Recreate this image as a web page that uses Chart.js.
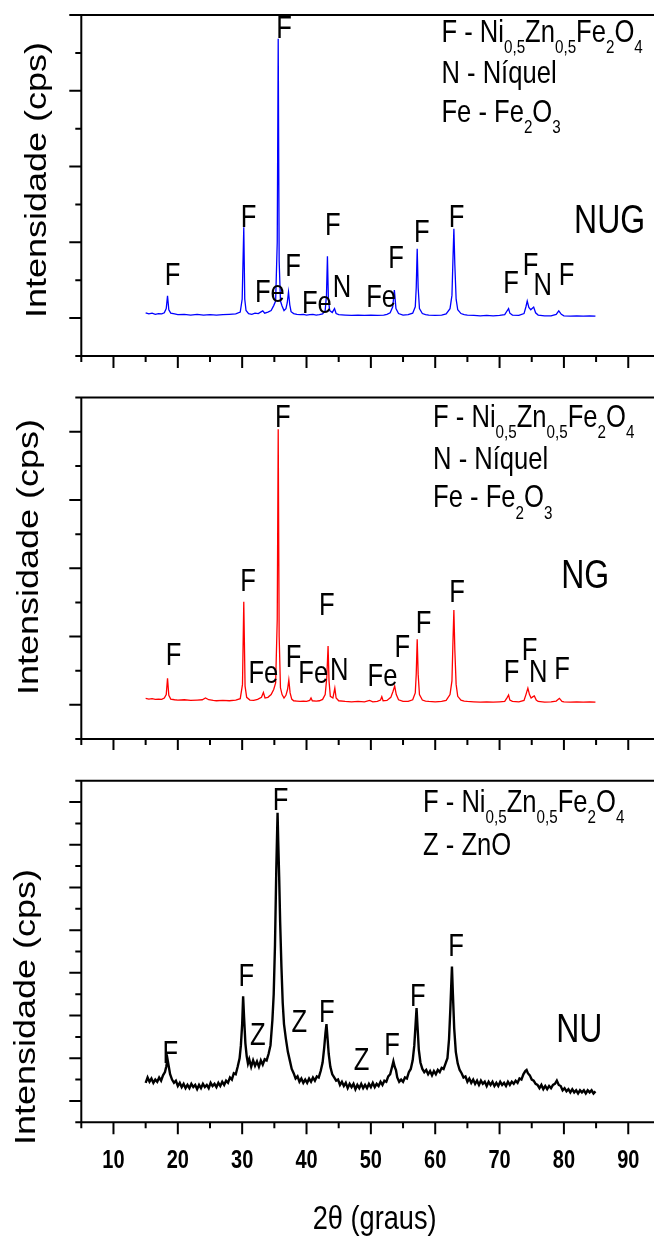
<!DOCTYPE html>
<html>
<head>
<meta charset="utf-8">
<script src="https://cdn.jsdelivr.net/npm/chart.js@4.4.1/dist/chart.umd.min.js"></script>
<style>
  html, body { margin: 0; padding: 0; background: #fff; overflow: hidden; }
  canvas { position: absolute; left: 0; }
</style>
</head>
<body>
<canvas id="c1" width="654" height="380" style="top:0px"></canvas>
<canvas id="c2" width="654" height="365" style="top:385px"></canvas>
<canvas id="c3" width="654" height="487" style="top:750px"></canvas>
<script>
// 2theta axis ticks
const xMajorTicks = [10, 20, 30, 40, 50, 60, 70, 80, 90];
const xMinorTicks = [5, 15, 25, 35, 45, 55, 65, 75, 85];
const xTickLabels = ['10', '20', '30', '40', '50', '60', '70', '80', '90'];

// NUG sample (blue)
const nugX = [15.0, 15.5, 16.0, 16.5, 17.0, 17.5, 17.9, 18.2, 18.4, 18.6, 18.9, 19.5, 20, 21, 22, 23, 24, 25, 26, 27, 28, 29,
  29.7, 30.0, 30.25, 30.4, 30.6, 31.0, 31.5, 32.0, 32.5, 33.0, 33.2, 33.5, 34.0, 34.5, 34.9, 35.2, 35.45, 35.6, 35.75, 35.95,
  36.2, 36.5, 36.8, 37.0, 37.2, 37.4, 37.6, 38, 38.5, 39, 39.5, 40, 40.5, 41, 41.5, 42, 42.5, 42.9, 43.1, 43.25, 43.4, 43.6,
  44.0, 44.35, 44.6, 45, 46, 47, 48, 49, 50, 51, 52, 52.5, 53.0, 53.4, 53.65, 53.9, 54.3, 55, 55.8, 56.5, 56.9, 57.05, 57.2,
  57.35, 57.55, 58, 58.5, 59, 60, 61, 61.7, 62.3, 62.6, 62.75, 62.9, 63.05, 63.25, 63.5, 64, 64.5, 65, 66, 67, 68, 69, 70,
  70.8, 71.2, 71.4, 71.6, 72, 73, 73.8, 74.1, 74.3, 74.55, 74.85, 75.1, 75.3, 75.6, 76, 77, 78, 78.8, 79.2, 79.6, 80, 81, 82,
  83, 84, 84.9];
const nugY = [1.14, 1.11, 1.13, 1.10, 1.12, 1.11, 1.14, 1.25, 1.59, 1.22, 1.13, 1.11, 1.09, 1.10, 1.08, 1.10, 1.08, 1.09, 1.08, 1.09, 1.10, 1.11,
  1.16, 1.5, 3.40, 1.5, 1.2, 1.12, 1.10, 1.13, 1.12, 1.17, 1.19, 1.13, 1.16, 1.20, 1.33, 1.45, 3.0, 8.37, 2.5, 1.45,
  1.32, 1.20, 1.25, 1.40, 1.69, 1.35, 1.17, 1.12, 1.10, 1.09, 1.10, 1.08, 1.09, 1.10, 1.08, 1.09, 1.11, 1.2, 1.6, 2.63, 1.5, 1.2,
  1.15, 1.25, 1.12, 1.09, 1.08, 1.07, 1.08, 1.07, 1.08, 1.07, 1.08, 1.1, 1.14, 1.3, 1.74, 1.25, 1.12, 1.08, 1.09, 1.13, 1.3, 1.8, 2.83,
  1.8, 1.25, 1.12, 1.09, 1.08, 1.07, 1.08, 1.11, 1.25, 1.6, 2.5, 3.36, 2.4, 1.5, 1.22, 1.12, 1.09, 1.08, 1.07, 1.06, 1.07, 1.06, 1.07,
  1.09, 1.2, 1.25, 1.13, 1.08, 1.07, 1.12, 1.3, 1.45, 1.28, 1.22, 1.26, 1.29, 1.14, 1.08, 1.06, 1.06, 1.1, 1.19, 1.1, 1.06, 1.05, 1.06,
  1.05, 1.06, 1.05];

// NG sample (red)
const ngX = [15.0, 15.5, 16.0, 16.5, 17.0, 17.5, 17.9, 18.2, 18.4, 18.6, 18.9, 19.5, 20, 21, 22, 23, 23.8, 24.3, 24.8, 25.5, 26, 27, 28, 29,
  29.7, 30.05, 30.25, 30.45, 30.7, 31.2, 31.8, 32.4, 33.0, 33.3, 33.55, 34.0, 34.5, 34.9, 35.2, 35.45, 35.6, 35.75, 35.95,
  36.2, 36.5, 36.8, 37.05, 37.25, 37.45, 37.7, 38, 38.5, 39, 39.5, 40, 40.5, 40.7, 40.9, 41.5, 42, 42.5, 42.9, 43.15, 43.35, 43.5,
  43.7, 44.1, 44.4, 44.6, 45, 46, 47, 48, 49, 49.8, 50.3, 51, 51.5, 51.7, 51.9, 52.5, 53.1, 53.45, 53.7, 53.95, 54.3, 55, 55.8,
  56.5, 56.9, 57.05, 57.2, 57.35, 57.55, 58, 58.5, 59, 60, 61, 61.7, 62.3, 62.6, 62.75, 62.9, 63.05, 63.25, 63.5, 64, 64.5, 65,
  66, 67, 68, 69, 70, 70.8, 71.2, 71.4, 71.6, 72, 73, 73.8, 74.1, 74.4, 74.65, 74.9, 75.2, 75.4, 75.7, 76, 77, 78, 78.8, 79.3,
  79.7, 80, 81, 82, 83, 84, 84.9];
const ngY = [1.19, 1.17, 1.18, 1.16, 1.17, 1.16, 1.2, 1.3, 1.78, 1.28, 1.17, 1.15, 1.14, 1.15, 1.13, 1.14, 1.15, 1.2, 1.15, 1.13, 1.12, 1.13, 1.12, 1.14,
  1.18, 1.6, 4.02, 1.55, 1.22, 1.14, 1.13, 1.16, 1.22, 1.36, 1.2, 1.22, 1.3, 1.45, 1.64, 3.5, 9.07, 3.0, 1.5,
  1.3, 1.2, 1.28, 1.45, 1.73, 1.35, 1.17, 1.12, 1.11, 1.10, 1.11, 1.10, 1.13, 1.2, 1.12, 1.11, 1.12, 1.16, 1.3, 1.8, 2.72, 1.7,
  1.25, 1.2, 1.49, 1.2, 1.12, 1.10, 1.09, 1.10, 1.09, 1.13, 1.09, 1.1, 1.14, 1.24, 1.12, 1.13, 1.22, 1.4, 1.55, 1.3, 1.15, 1.1, 1.1,
  1.15, 1.35, 1.9, 2.92, 1.9, 1.3, 1.14, 1.11, 1.1, 1.09, 1.1, 1.13, 1.3, 1.7, 2.8, 3.78, 2.6, 1.6, 1.25, 1.14, 1.11, 1.1,
  1.09, 1.08, 1.09, 1.08, 1.09, 1.1, 1.22, 1.29, 1.14, 1.1, 1.09, 1.13, 1.3, 1.49, 1.3, 1.2, 1.24, 1.26, 1.14, 1.1, 1.08, 1.09, 1.11, 1.19,
  1.1, 1.09, 1.08, 1.09, 1.08, 1.09, 1.08];

// NU sample (black, noisy)
const nuX = [15.0, 15.3, 15.6, 15.9, 16.2, 16.5, 16.8, 17.1, 17.4, 17.7, 18.0, 18.2, 18.4, 18.6, 18.8, 19.1, 19.4, 19.7,
  20.0, 20.3, 20.6, 20.9, 21.2, 21.5, 21.8, 22.1, 22.4, 22.7, 23.0, 23.3, 23.6, 23.9, 24.2, 24.5, 24.8, 25.1, 25.4, 25.7,
  26.0, 26.3, 26.6, 26.9, 27.2, 27.5, 27.8, 28.1, 28.4, 28.7, 29.0, 29.3, 29.6, 29.8, 30.0, 30.15, 30.3, 30.5, 30.7, 30.9,
  31.1, 31.4, 31.7, 32.0, 32.3, 32.6, 32.9, 33.2, 33.5, 33.8, 34.1, 34.4, 34.7, 34.9, 35.1, 35.3, 35.5, 35.6, 35.75, 35.9,
  36.1, 36.3, 36.5, 36.8, 37.1, 37.4, 37.7, 38.0, 38.3, 38.6, 38.9, 39.2, 39.5, 39.8, 40.1, 40.4, 40.7, 41.0, 41.3, 41.6,
  41.9, 42.2, 42.5, 42.75, 42.95, 43.1, 43.25, 43.45, 43.7, 44.0, 44.3, 44.6, 44.9, 45.2, 45.5, 45.8, 46.1, 46.4, 46.7,
  47.0, 47.3, 47.6, 47.9, 48.2, 48.5, 48.8, 49.1, 49.4, 49.7, 50.0, 50.3, 50.6, 50.9, 51.2, 51.5, 51.8, 52.1, 52.4, 52.7,
  53.0, 53.3, 53.5, 53.7, 53.9, 54.1, 54.4, 54.7, 55.0, 55.3, 55.6, 55.9, 56.2, 56.5, 56.75, 56.95, 57.1, 57.25, 57.45,
  57.7, 58.0, 58.3, 58.6, 58.9, 59.2, 59.5, 59.8, 60.1, 60.4, 60.7, 61.0, 61.3, 61.6, 61.9, 62.15, 62.35, 62.6, 62.75,
  62.95, 63.2, 63.5, 63.8, 64.1, 64.4, 64.7, 65.0, 65.3, 65.6, 65.9, 66.2, 66.5, 66.8, 67.1, 67.4, 67.7, 68.0, 68.3, 68.6,
  68.9, 69.2, 69.5, 69.8, 70.1, 70.4, 70.7, 71.0, 71.3, 71.6, 71.9, 72.2, 72.5, 72.8, 73.1, 73.4, 73.7, 74.0, 74.2, 74.4,
  74.7, 75.0, 75.3, 75.6, 75.9, 76.2, 76.5, 76.8, 77.1, 77.4, 77.7, 78.0, 78.3, 78.6, 78.9, 79.2, 79.5, 79.8, 80.1, 80.4,
  80.7, 81.0, 81.3, 81.6, 81.9, 82.2, 82.5, 82.8, 83.1, 83.4, 83.7, 84.0, 84.3, 84.6, 84.9];
const nuY = [1.85, 2.1, 1.9, 2.05, 1.85, 2.0, 1.9, 2.1, 1.95, 2.2, 2.35, 2.6, 2.95, 2.6, 2.25, 2.0, 1.85, 1.95,
  1.7, 1.85, 1.65, 1.8, 1.6, 1.75, 1.6, 1.8, 1.65, 1.75, 1.55, 1.75, 1.6, 1.8, 1.65, 1.75, 1.6, 1.85, 1.7, 1.8,
  1.65, 1.85, 1.7, 1.9, 1.75, 1.95, 1.85, 2.1, 2.0, 2.3, 2.25, 2.6, 3.0, 3.6, 4.6, 5.9, 4.9, 3.7, 3.1, 2.75,
  2.95, 2.6, 2.9, 2.65, 2.85, 2.6, 2.9, 2.7, 2.95, 2.9, 3.2, 3.6, 4.8, 6.0, 8.3, 11.8, 14.5, 13.2, 11.5, 9.4,
  7.3, 5.6, 4.6, 3.9, 3.3, 2.9, 2.5, 2.3, 2.05, 2.15, 1.9, 2.05, 1.85, 2.0, 1.85, 2.05, 1.9, 2.1, 1.95, 2.15,
  2.1, 2.4, 2.8, 3.5, 4.2, 4.6, 4.0, 3.2, 2.6, 2.25, 2.1, 1.95, 2.0, 1.75, 1.9, 1.7, 1.85, 1.6, 1.8,
  1.65, 1.8, 1.55, 1.75, 1.6, 1.8, 1.6, 1.75, 1.6, 1.8, 1.65, 1.85, 1.65, 1.8, 1.7, 1.9, 1.75, 1.95, 1.9, 2.15,
  2.25, 2.6, 2.85, 2.6, 2.45, 2.1, 1.9, 2.0, 1.9, 2.1, 2.05, 2.35, 2.5, 2.9, 3.6, 4.6, 5.35, 4.5, 3.4,
  2.8, 2.5, 2.35, 2.45, 2.25, 2.4, 2.2, 2.4, 2.25, 2.45, 2.35, 2.55, 2.5, 2.75, 3.0, 3.9, 5.3, 7.3, 6.0,
  4.4, 3.3, 2.75, 2.45, 2.3, 2.1, 2.15, 1.9, 2.05, 1.85, 2.0, 1.8, 1.95, 1.75, 1.95, 1.8, 1.9, 1.7, 1.9, 1.75,
  1.9, 1.7, 1.85, 1.7, 1.9, 1.75, 1.85, 1.7, 1.9, 1.75, 1.9, 1.8, 1.95, 1.85, 2.05, 2.0, 2.25, 2.4, 2.45, 2.3,
  2.2, 2.0, 1.95, 1.8, 1.75, 1.6, 1.75, 1.55, 1.7, 1.55, 1.7, 1.6, 1.75, 1.8, 1.95, 1.75, 1.7, 1.5, 1.6, 1.45,
  1.55, 1.4, 1.55, 1.4, 1.5, 1.35, 1.5, 1.4, 1.5, 1.35, 1.5, 1.4, 1.5, 1.35, 1.45];

// peak labels: [text, 2theta, intensity]
const nugMarks = [['F', 19.2, 1.87], ['F', 31.0, 3.41], ['Fe', 34.3, 1.43], ['F', 36.5, 8.40], ['F', 37.9, 2.11],
  ['Fe', 41.6, 1.13], ['F', 44.1, 3.19], ['N', 45.5, 1.56], ['Fe', 51.6, 1.30], ['F', 53.9, 2.31], ['F', 57.9, 3.02],
  ['F', 63.3, 3.41], ['F', 71.8, 1.65], ['F', 74.8, 2.14], ['N', 76.7, 1.61], ['F', 80.4, 1.87]];
const ngMarks = [['F', 19.35, 2.17], ['F', 30.9, 4.34], ['Fe', 33.3, 1.63], ['F', 36.3, 9.15], ['F', 38.0, 2.12],
  ['Fe', 41.05, 1.63], ['F', 43.15, 3.63], ['N', 45.1, 1.73], ['Fe', 51.8, 1.55], ['F', 54.9, 2.39], ['F', 58.2, 3.10],
  ['F', 63.4, 4.01], ['F', 71.85, 1.68], ['F', 74.65, 2.31], ['N', 76.0, 1.66], ['F', 79.7, 1.75]];
const nuMarks = [['F', 18.85, 2.77], ['F', 30.65, 6.37], ['Z', 32.45, 3.63], ['F', 35.98, 14.62], ['Z', 38.9, 4.25],
  ['F', 43.15, 4.72], ['Z', 48.55, 2.46], ['F', 53.3, 3.16], ['F', 57.3, 5.43], ['F', 63.25, 7.81]];

// phase legends, [text, isSubscript]
const ferriteRow = [['F - Ni', 0], ['0,5', 1], ['Zn', 0], ['0,5', 1], ['Fe', 0], ['2', 1], ['O', 0], ['4', 1]];
const legendNG = [ferriteRow, [['N - Níquel', 0]], [['Fe - Fe', 0], ['2', 1], ['O', 0], ['3', 1]]];
const legendNU = [ferriteRow, [['Z - ZnO', 0]]];

const SQUEEZE = 0.8;
const SANS = '"Liberation Sans", Arial, sans-serif';

const panels = [
  { id: 'c1', padTop: 15, padBottom: 24, ymax: 9, yMajor: [1, 3, 5, 7, 9], yMinor: [0, 2, 4, 6, 8],
    xs: nugX, ys: nugY, color: '#0000ff', lw: 1.3, marks: nugMarks, name: 'NUG', nameAt: [87.1, 3.24],
    legend: legendNG, legendX: 60.96, legendY: [8.29, 7.2, 6.18], titleAt: [38, 180], showX: false },
  { id: 'c2', padTop: 12.6, padBottom: 11, ymax: 10, yMajor: [1, 3, 5, 7, 9], yMinor: [0, 2, 4, 6, 8, 10],
    xs: ngX, ys: ngY, color: '#ff0000', lw: 1.3, marks: ngMarks, name: 'NG', nameAt: [83.3, 4.41],
    legend: legendNG, legendX: 59.66, legendY: [9.15, 7.91, 6.79], titleAt: [30, 172], showX: false },
  { id: 'c3', padTop: 30.7, padBottom: 114.7, ymax: 16, yMajor: [1, 3, 5, 7, 9, 11, 13, 15], yMinor: [0, 2, 4, 6, 8, 10, 12, 14, 16],
    xs: nuX, ys: nuY, color: '#000000', lw: 2.4, marks: nuMarks, name: 'NU', nameAt: [82.4, 3.74],
    legend: legendNU, legendX: 58.1, legendY: [14.54, 12.5], titleAt: [27, 257], showX: true }
];

function squeezedText(ctx, text, x, y, font, align) {
  ctx.save();
  ctx.translate(x, y);
  ctx.scale(SQUEEZE, 1);
  ctx.font = font;
  ctx.textAlign = align;
  ctx.textBaseline = 'alphabetic';
  ctx.fillText(text, 0, 0);
  ctx.restore();
}

const framePlugin = {
  id: 'frame',
  afterDraw(chart, args, opts) {
    const p = opts.panel;
    const ctx = chart.ctx;
    const {left, right, top, bottom} = chart.chartArea;
    const xs = chart.scales.x, ys = chart.scales.y;
    ctx.save();
    ctx.strokeStyle = '#000';
    ctx.fillStyle = '#000';
    ctx.lineWidth = 2;
    ctx.beginPath();
    ctx.moveTo(left, top); ctx.lineTo(right, top);
    ctx.moveTo(left, top); ctx.lineTo(left, bottom);
    ctx.moveTo(left, bottom); ctx.lineTo(right, bottom);
    xMajorTicks.forEach(v => { const px = xs.getPixelForValue(v); ctx.moveTo(px, bottom); ctx.lineTo(px, bottom + 12); });
    xMinorTicks.forEach(v => { const px = xs.getPixelForValue(v); ctx.moveTo(px, bottom); ctx.lineTo(px, bottom + 6); });
    p.yMajor.forEach(v => { const py = ys.getPixelForValue(v); ctx.moveTo(left, py); ctx.lineTo(left - 12, py); });
    p.yMinor.forEach(v => { const py = ys.getPixelForValue(v); ctx.moveTo(left, py); ctx.lineTo(left - 6, py); });
    ctx.stroke();

    if (p.showX) {
      xMajorTicks.forEach((v, i) =>
        squeezedText(ctx, xTickLabels[i], xs.getPixelForValue(v), bottom + 46, 'bold 25px ' + SANS, 'center'));
      squeezedText(ctx, '2θ (graus)', (left + right) / 2 + 7, bottom + 107, '34px ' + SANS, 'center');
    }

    p.marks.forEach(m =>
      squeezedText(ctx, m[0], xs.getPixelForValue(m[1]), ys.getPixelForValue(m[2]), '32px ' + SANS, 'center'));
    squeezedText(ctx, p.name, xs.getPixelForValue(p.nameAt[0]), ys.getPixelForValue(p.nameAt[1]), '40px ' + SANS, 'center');

    // legend rows with subscripts
    p.legend.forEach((row, i) => {
      let x = xs.getPixelForValue(p.legendX);
      const y = ys.getPixelForValue(p.legendY[i]);
      row.forEach(([txt, sub]) => {
        const font = (sub ? 19 : 32) + 'px ' + SANS;
        squeezedText(ctx, txt, x, sub ? y + 11.5 : y, font, 'left');
        ctx.font = font;
        x += ctx.measureText(txt).width * SQUEEZE;
      });
    });

    // y axis title
    ctx.translate(p.titleAt[0], p.titleAt[1]);
    ctx.rotate(-Math.PI / 2);
    ctx.scale(1, SQUEEZE);
    ctx.font = '36px ' + SANS;
    ctx.textAlign = 'center';
    ctx.textBaseline = 'middle';
    ctx.fillText('Intensidade (cps)', 0, 0);
    ctx.restore();
  }
};

panels.forEach(p => {
  new Chart(document.getElementById(p.id), {
    type: 'line',
    data: {
      datasets: [{
        data: p.xs.map((x, i) => ({ x: x, y: p.ys[i] })),
        borderColor: p.color,
        borderWidth: p.lw,
        pointRadius: 0,
        tension: 0,
        fill: false
      }]
    },
    options: {
      responsive: false,
      animation: false,
      layout: { padding: { left: 81.3, right: 0, top: p.padTop, bottom: p.padBottom } },
      plugins: { legend: { display: false }, tooltip: { enabled: false }, frame: { panel: p } },
      scales: {
        x: { type: 'linear', min: 5, max: 94, display: false },
        y: { min: 0, max: p.ymax, display: false }
      }
    },
    plugins: [framePlugin]
  });
});
</script>
</body>
</html>
